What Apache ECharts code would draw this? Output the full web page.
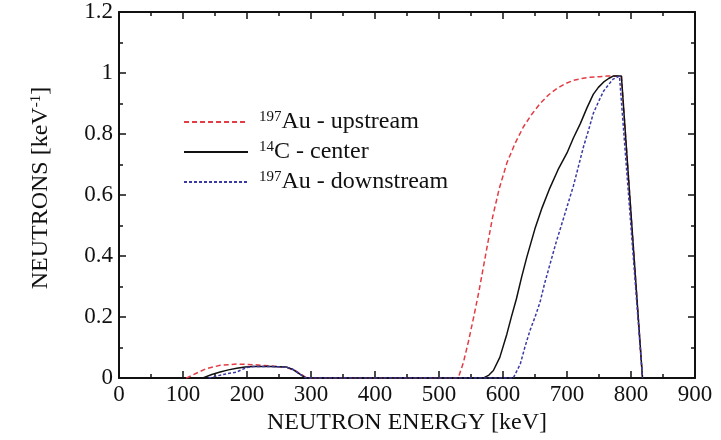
<!DOCTYPE html>
<html>
<head>
<meta charset="utf-8">
<script src="https://cdn.jsdelivr.net/npm/echarts@6/dist/echarts.min.js"></script>
<style>
  html, body { margin: 0; padding: 0; background: #fff; }
  #chart { width: 721px; height: 440px; }
</style>
</head>
<body>
<div id="chart"></div>
<script>
// [energy keV, neutrons keV^-1]
const upstream = [
  [105, 0], [120, 0.015], [135, 0.03], [158, 0.042], [184, 0.046], [210, 0.044],
  [235, 0.04], [260, 0.036], [275, 0.025], [290, 0.005], [295, 0],
  [530, 0], [538, 0.05], [546, 0.12], [554, 0.198], [562, 0.28], [569, 0.36],
  [576, 0.44], [584, 0.53], [594, 0.62], [606, 0.705], [619, 0.77], [632, 0.824],
  [645, 0.865], [658, 0.9], [671, 0.928], [684, 0.949], [697, 0.965], [710, 0.976],
  [723, 0.982], [736, 0.986], [750, 0.988], [762, 0.99], [785, 0.99], [818, 0]
];
const center = [
  [130, 0], [145, 0.012], [158, 0.02], [171, 0.027], [184, 0.032], [197, 0.036],
  [210, 0.038], [236, 0.038], [262, 0.036], [272, 0.028], [282, 0.014], [292, 0],
  [569, 0], [578, 0.01], [585, 0.025], [595, 0.068], [606, 0.144], [613, 0.2],
  [621, 0.26], [629, 0.33], [637, 0.395], [650, 0.49], [661, 0.558], [673, 0.622],
  [686, 0.683], [700, 0.738], [710, 0.787], [721, 0.835], [731, 0.885], [741, 0.93],
  [749, 0.953], [757, 0.97], [765, 0.982], [772, 0.99], [785, 0.99], [818, 0]
];
const downstream = [
  [140, 0], [155, 0.008], [168, 0.014], [184, 0.02], [192, 0.028], [200, 0.035],
  [210, 0.038], [236, 0.038], [262, 0.036], [272, 0.028], [282, 0.014], [292, 0],
  [616, 0], [627, 0.046], [634, 0.1], [642, 0.155], [650, 0.2], [658, 0.25],
  [665, 0.31], [673, 0.37], [683, 0.445], [694, 0.52], [702, 0.575], [710, 0.63],
  [718, 0.695], [726, 0.76], [734, 0.815], [741, 0.867], [749, 0.905], [757, 0.94],
  [765, 0.962], [772, 0.98], [782, 0.99], [785, 0.99], [818, 0]
];

const seriesNames = ['197Au - upstream', '14C - center', '197Au - downstream'];
const xRange = [0, 900, 100];
const yRange = [0, 1.2, 0.2];

const FONT = 'Liberation Serif';
const supStyle = { fontFamily: FONT, fontSize: 15, verticalAlign: 'top', color: '#111' };
const txtStyle = { fontFamily: FONT, fontSize: 24, color: '#111' };

const chart = echarts.init(document.getElementById('chart'));

function axisBase(showLabel) {
  return {
    type: 'value',
    axisLine: { show: true, onZero: false, lineStyle: { color: '#111', width: 2 } },
    axisTick: { show: true, inside: true, length: 7, lineStyle: { color: '#111', width: 1.5 } },
    minorTick: { show: true, splitNumber: 2, length: 4, lineStyle: { color: '#111', width: 1.5 } },
    splitLine: { show: false },
    axisLabel: { show: showLabel, fontFamily: FONT, fontSize: 23, color: '#111', margin: 5 },
  };
}

function mkLine(name, data, color, type, z) {
  return {
    name: name,
    type: 'line',
    data: data,
    showSymbol: false,
    symbol: 'none',
    z: z,
    lineStyle: { color: color, width: 1.5, type: type },
    itemStyle: { color: color },
  };
}

const xMain = Object.assign(axisBase(true), {
  min: xRange[0], max: xRange[1], interval: xRange[2], position: 'bottom',
  name: 'NEUTRON ENERGY [keV]', nameLocation: 'middle', nameGap: 27,
  nameTextStyle: { fontFamily: FONT, fontSize: 24, color: '#111' },
});
const xTop = Object.assign(axisBase(false), {
  min: xRange[0], max: xRange[1], interval: xRange[2], position: 'top',
});
const yMain = Object.assign(axisBase(true), {
  min: yRange[0], max: yRange[1], interval: yRange[2], position: 'left',
  name: '{t|NEUTRONS [keV}{sup|-1}{t|]}', nameLocation: 'middle', nameGap: 66, nameRotate: 90,
  nameTextStyle: {
    fontFamily: FONT, fontSize: 24, color: '#111', padding: [0, 0, 0, 14],
    rich: { t: txtStyle, sup: supStyle }
  },
});
yMain.axisLabel.margin = 6;
const yRight = Object.assign(axisBase(false), {
  min: yRange[0], max: yRange[1], interval: yRange[2], position: 'right',
});

chart.setOption({
  backgroundColor: '#fff',
  animation: false,
  grid: { left: 119, right: 26, top: 12, bottom: 59 },
  legend: {
    show: true,
    orient: 'vertical',
    left: 178,
    top: 105,
    itemWidth: 64,
    itemHeight: 14,
    itemGap: 6,
    data: seriesNames,
    itemStyle: { opacity: 0 },
    textStyle: { fontFamily: FONT, fontSize: 24, color: '#111', rich: { sup: supStyle, t: txtStyle } },
    formatter: function (n) {
      const m = n.match(/^(\d+)(.*)$/);
      return ' {sup|' + m[1] + '}{t|' + m[2] + '}';
    }
  },
  xAxis: [xMain, xTop],
  yAxis: [yMain, yRight],
  series: [
    mkLine(seriesNames[0], upstream, '#e43c44', [5, 3], 2),
    mkLine(seriesNames[1], center, '#111111', 'solid', 3),
    mkLine(seriesNames[2], downstream, '#3a3aa6', [3, 2], 4),
  ]
});
</script>
</body>
</html>
